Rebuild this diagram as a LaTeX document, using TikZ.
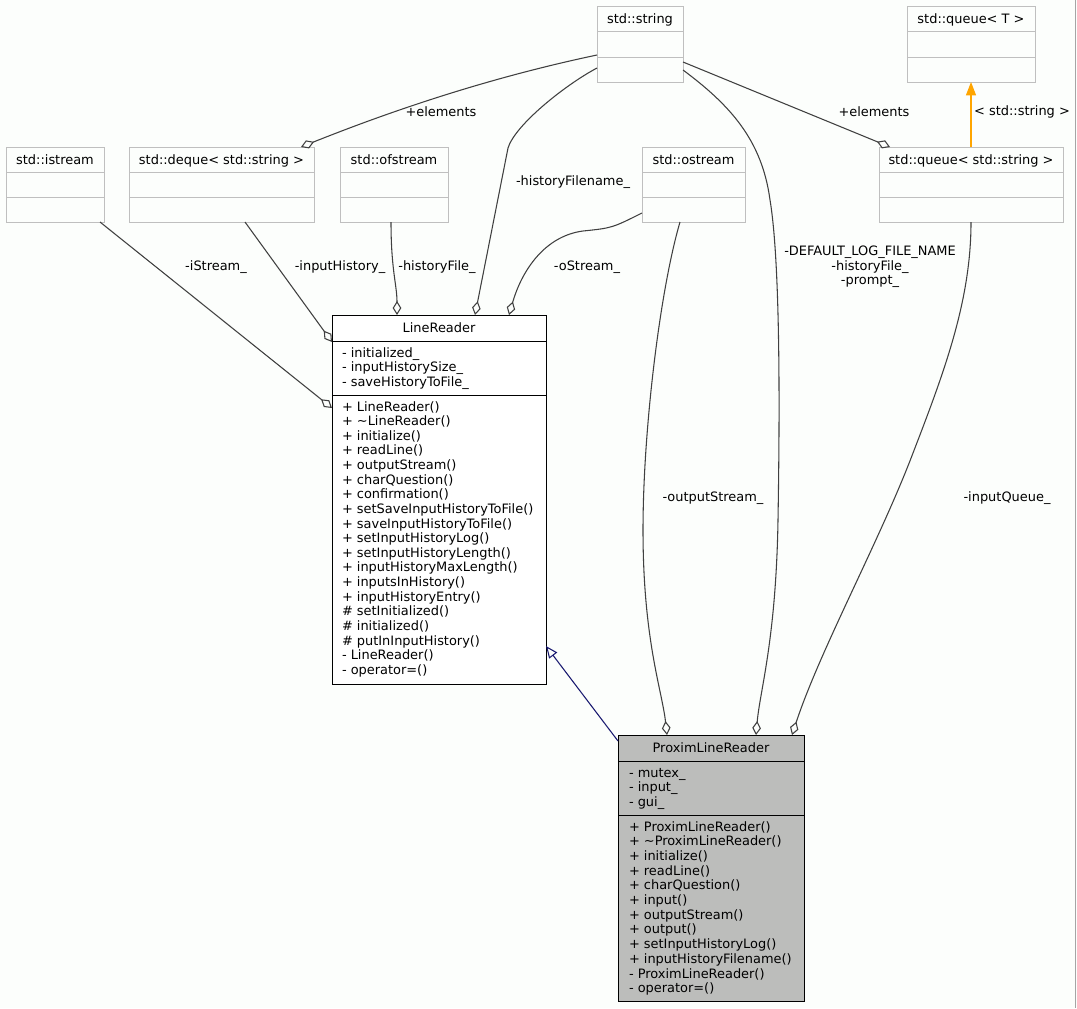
\documentclass[tikz,border=0pt]{standalone}
\usepackage{fontspec}
\setmainfont{DejaVu Sans}
\usetikzlibrary{arrows.meta,calc,fit}
\definecolor{bgc}{RGB}{252,254,252}
\definecolor{edgec}{RGB}{64,64,64}
\definecolor{stdc}{RGB}{191,191,191}
\definecolor{proxc}{RGB}{188,189,187}
\definecolor{inhc}{RGB}{25,25,112}
\definecolor{tmplc}{RGB}{255,165,0}
\definecolor{framec}{RGB}{165,165,165}
\newcommand\clsbox[9]{%
  \node[#2, fit={(#3,#4)(#5,#6)}] (#1) {};
  \node[anchor=base] (#1-t) at ($(#1.north)+(0,17)$) {#7};
  \draw[#2] ($(#1.north west)+(0,#8)$) -- ($(#1.north east)+(0,#8)$);
  \draw[#2] ($(#1.north west)+(0,#9)$) -- ($(#1.north east)+(0,#9)$);
}
\begin{document}
\begin{tikzpicture}[x=0.75pt,y=-0.75pt,
  every node/.style={font=\fontsize{9.7}{11}\selectfont, inner sep=0pt, outer sep=0pt},
  stdcls/.style={draw=stdc, line width=0.75pt},
  maincls/.style={draw=black, line width=0.75pt},
  proxcls/.style={draw=black, line width=0.75pt},
  agg/.style={draw=edgec, line width=0.8pt, -{Diamond[open, length=10.5pt, width=6.5pt]}},
  inh/.style={draw=inhc, line width=0.8pt, -{Triangle[open, length=9pt, width=7.5pt]}},
  tmpl/.style={draw=tmplc, line width=0.8pt, -{Triangle[length=10pt, width=7.5pt]}},
  lbl/.style={anchor=center, text=black},
  member/.style={anchor=base west}
]
\fill[bgc] (0,0) rectangle (1077,1008);
\useasboundingbox (0,0) rectangle (1077,1008);
\draw[framec, line width=0.75pt] (1075.5,0) -- (1075.5,1008);

% std classes
\clsbox{string}{stdcls}{597}{6}{683}{82}{std::string}{25.5}{51}
\clsbox{queueT}{stdcls}{907}{6}{1035}{82}{std::queue< T >}{25.5}{51}
\clsbox{istream}{stdcls}{6}{147}{104}{222}{std::istream}{25.5}{50.5}
\clsbox{deque}{stdcls}{129}{147}{314}{222}{std::deque< std::string >}{25.5}{50.5}
\clsbox{ofstream}{stdcls}{340}{147}{448}{222}{std::ofstream}{25.5}{50.5}
\clsbox{ostream}{stdcls}{642}{147}{745}{222}{std::ostream}{25.5}{50.5}
\clsbox{queueS}{stdcls}{879}{147}{1063}{222}{std::queue< std::string >}{25.5}{50.5}

% LineReader
\node[maincls, fill=white, fit={(332,315)(546,684)}] (lr) {};
\node[anchor=base] (lr-t) at ($(lr.north)+(0,17)$) {LineReader};
\draw[maincls] ($(lr.north west)+(0,26)$) -- ($(lr.north east)+(0,26)$);
\draw[maincls] ($(lr.north west)+(0,80)$) -- ($(lr.north east)+(0,80)$);
\foreach \t [count=\i from 0] in {- initialized\_, - inputHistorySize\_, - saveHistoryToFile\_}
  \node[member] (lr-a\i) at ($(lr.north west)+(10,{42+14.65*\i})$) {\t};
\foreach \t [count=\i from 0] in {+ LineReader(), + \textasciitilde LineReader(), + initialize(), + readLine(), + outputStream(), + charQuestion(), + confirmation(), + setSaveInputHistoryToFile(), + saveInputHistoryToFile(), + setInputHistoryLog(), + setInputHistoryLength(), + inputHistoryMaxLength(), + inputsInHistory(), + inputHistoryEntry(), \# setInitialized(), \# initialized(), \# putInInputHistory(), - LineReader(), - operator=()}
  \node[member] (lr-m\i) at ($(lr.north west)+(10,{96+14.63*\i})$) {\t};

% ProximLineReader
\node[proxcls, fill=proxc, fit={(618,735)(804,1001)}] (plr) {};
\node[anchor=base] (plr-t) at ($(plr.north)+(0,17)$) {ProximLineReader};
\draw[proxcls] ($(plr.north west)+(0,26)$) -- ($(plr.north east)+(0,26)$);
\draw[proxcls] ($(plr.north west)+(0,80)$) -- ($(plr.north east)+(0,80)$);
\foreach \t [count=\i from 0] in {- mutex\_, - input\_, - gui\_}
  \node[member] (plr-a\i) at ($(plr.north west)+(11,{42+14.7*\i})$) {\t};
\foreach \t [count=\i from 0] in {+ ProximLineReader(), + \textasciitilde ProximLineReader(), + initialize(), + readLine(), + charQuestion(), + input(), + outputStream(), + output(), + setInputHistoryLog(), + inputHistoryFilename(), - ProximLineReader(), - operator=()}
  \node[member] (plr-m\i) at ($(plr.north west)+(11,{96+14.7*\i})$) {\t};

% connectors
\draw[agg] ($(string.north west)+(0,49)$) .. controls (497,76) and (401,107) .. ($(deque.north east)+(-13,0)$);
\draw[agg] ($(string.north west)+(0,62)$) .. controls (565,85) and (515,125) .. (508,148) -- ($(lr.north west)+(143,0)$);
\draw[agg] ($(ofstream.south west)+(51,0)$) .. controls (391,270) and (397,285) .. ($(lr.north west)+(65,0)$);
\draw[agg] ($(deque.south west)+(116,0)$) -- ($(lr.north west)+(0,27)$);
\draw[agg] ($(istream.south west)+(94,0)$) -- ($(lr.north west)+(0,93)$);
\draw[agg] ($(ostream.north west)+(0,66)$) .. controls (612,228) .. (583,231) .. controls (545,236) and (522,270) .. ($(lr.north west)+(177,0)$);
\draw[agg] ($(ostream.south west)+(38,0)$) .. controls (660,290) and (643,430) .. (643,530) .. controls (643,640) and (662,690) .. ($(plr.north west)+(49,0)$);
\draw[agg] ($(string.north east)+(0,64)$) .. controls (730,105) and (762,140) .. (770,200) .. controls (780,260) and (780,400) .. (778,520) .. controls (776,640) and (760,690) .. ($(plr.north west)+(138,0)$);
\draw[agg] ($(string.north east)+(0,56)$) -- ($(queueS.north west)+(11,0)$);
\draw[agg] ($(queueS.south west)+(92,0)$) .. controls (971,300) and (945,370) .. (913,453) .. controls (880,540) and (820,650) .. ($(plr.north west)+(174,0)$);
\draw[inh] ($(plr.north west)+(0,6)$) -- ($(lr.north east)+(0,331)$);
\draw[tmpl] (queueS.north) -- (queueT.south);

% labels
\node[lbl] (l1) at (441,112) {+elements};
\node[lbl] (l2) at (573,182) {-historyFilename\_};
\node[lbl] (l3) at (216,267) {-iStream\_};
\node[lbl] (l4) at (340,267) {-inputHistory\_};
\node[lbl] (l5) at (437,267) {-historyFile\_};
\node[lbl] (l6) at (587,267) {-oStream\_};
\node[lbl, align=center] (l7) at (870,267) {-DEFAULT\_LOG\_FILE\_NAME\\-historyFile\_\\-prompt\_};
\node[lbl] (l8) at (874,112) {+elements};
\node[lbl] (l9) at (1022,112) {< std::string >};
\node[lbl] (l10) at (713,498) {-outputStream\_};
\node[lbl] (l11) at (1007,498) {-inputQueue\_};
\end{tikzpicture}
\end{document}
